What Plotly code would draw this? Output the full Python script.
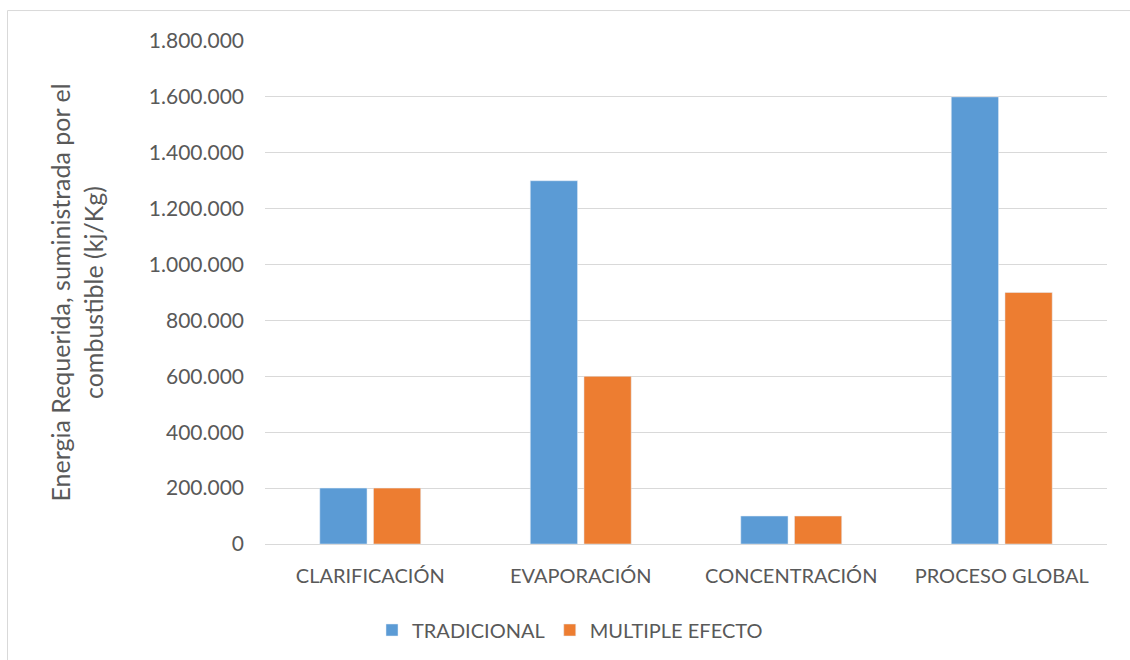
import plotly.graph_objects as go

categories = ["CLARIFICACIÓN", "EVAPORACIÓN", "CONCENTRACIÓN", "PROCESO GLOBAL"]
tradicional = [200000, 1300000, 100000, 1600000]
multiple_efecto = [200000, 600000, 100000, 900000]
y_ticks = [0, 200000, 400000, 600000, 800000, 1000000, 1200000, 1400000, 1600000, 1800000]

W, H = 1130, 660
L, R, T, B = 265, 23, 41, 115
pw, ph = W - L - R, H - T - B

def px_x(px):
    return (px - L) / pw

def px_y(py):
    return (H - B - py) / ph

FONT = "Lato, 'Open Sans', sans-serif"
GRAY = "#595959"

fig = go.Figure()
fig.add_trace(go.Bar(name="TRADICIONAL", x=categories, y=tradicional, marker_color="#5B9BD5"))
fig.add_trace(go.Bar(name="MULTIPLE EFECTO", x=categories, y=multiple_efecto, marker_color="#ED7D31"))

fig.update_layout(
    width=W, height=H,
    margin=dict(l=L, r=R, t=T, b=B),
    paper_bgcolor="white", plot_bgcolor="white",
    barmode="group", bargap=0.49, bargroupgap=0.12,
    separators=",.",
    font=dict(family=FONT, size=20, color=GRAY),
    showlegend=True,
    legend=dict(orientation="h", x=px_x(570), xanchor="center", y=px_y(630), yanchor="middle",
                font=dict(size=20, color=GRAY), itemwidth=30, traceorder="normal"),
    xaxis=dict(showgrid=False, showline=True, linecolor="#d9d9d9", linewidth=1,
               tickfont=dict(size=20, color=GRAY), ticks="", ticklabelstandoff=14),
    yaxis=dict(range=[0, 1800000], tickvals=y_ticks, tickformat=",d", showgrid=True,
               gridcolor="#d9d9d9", gridwidth=1, zeroline=False, showline=False,
               tickfont=dict(size=21, color=GRAY), ticks="", ticklabelstandoff=20,
               title=dict(text="Energia Requerida, suministrada por el<br>combustible (kj/Kg)",
                          font=dict(size=25, color=GRAY), standoff=38)),
    shapes=[dict(type="rect", xref="paper", yref="paper",
                 x0=px_x(7.5), x1=px_x(1140), y0=px_y(680), y1=px_y(10.5),
                 line=dict(color="#d9d9d9", width=1), layer="below")],
)

fig.write_html("out.html")
